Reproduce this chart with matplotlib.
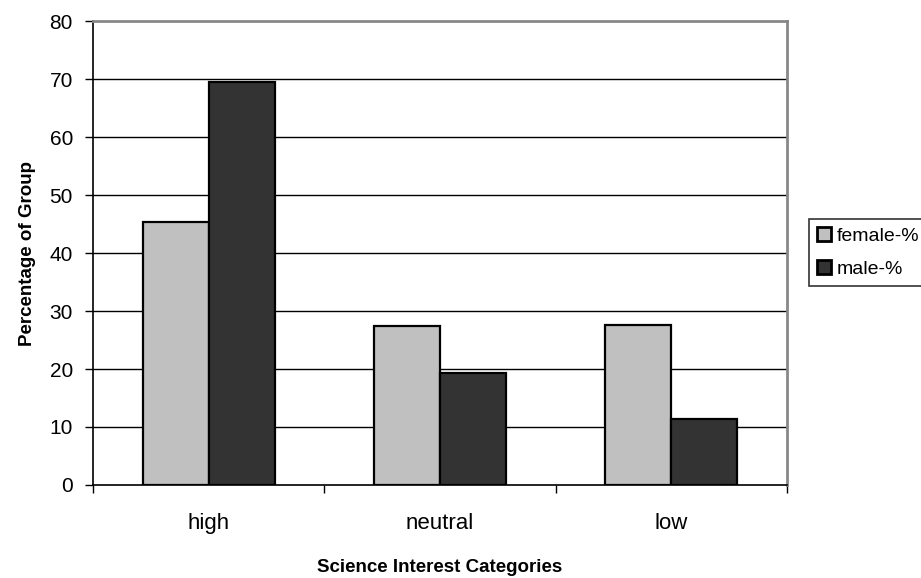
import numpy as np
import matplotlib.pyplot as plt

plt.rcParams['font.family'] = ['Liberation Sans', 'DejaVu Sans']

categories = ["high", "neutral", "low"]
female_pct = [45.3, 27.4, 27.6]
male_pct = [69.6, 19.4, 11.3]

x = np.arange(len(categories))
width = 1 / 3.5  # two bars plus a 150% gap per category

fig = plt.figure(figsize=(9.21, 5.78), dpi=100)
ax = fig.add_axes([0.101, 0.161, 0.7535, 0.802])

ax.bar(x - width / 2, female_pct, width, color="#c0c0c0", edgecolor="black",
       linewidth=1.6, label="female-%", zorder=3)
ax.bar(x + width / 2, male_pct, width, color="#333333", edgecolor="black",
       linewidth=1.6, label="male-%", zorder=3)

ax.set_xlim(-0.5, 2.5)
ax.set_ylim(0, 80)
ax.set_yticks(np.arange(0, 81, 10))
ax.set_xticks(np.arange(-0.5, 2.6, 1))
ax.set_xticklabels([])
ax.set_xticks(x, minor=True)
ax.set_xticklabels(categories, minor=True)
ax.tick_params(axis="x", which="minor", length=0, pad=20, labelsize=16)
ax.tick_params(axis="x", which="major", direction="out", length=6, width=1)
ax.tick_params(axis="y", direction="out", length=6, width=1, labelsize=15, pad=8.5)

for yv in range(10, 80, 10):
    ax.axhline(yv, color="black", linewidth=1, zorder=1)

for side in ["left", "bottom"]:
    ax.spines[side].set_color("black")
    ax.spines[side].set_linewidth(1.2)
for side in ["top", "right"]:
    ax.spines[side].set_color("#888888")
    ax.spines[side].set_linewidth(2)

ax.set_ylabel("Percentage of Group", fontsize=13.5, fontweight="bold", labelpad=10)
ax.set_xlabel("Science Interest Categories", fontsize=13.5, fontweight="bold", labelpad=18)

leg = fig.legend(loc="upper left", bbox_to_anchor=(0.8784, 0.6211), fontsize=14,
                 frameon=True, fancybox=False, edgecolor="black",
                 handlelength=0.72, handleheight=0.72, handletextpad=0.3,
                 borderpad=0.4, labelspacing=0.8, borderaxespad=0)
leg.get_frame().set_linewidth(1.2)
for patch in leg.get_patches():
    patch.set_linewidth(2)

fig.savefig("out.png", dpi=100)
